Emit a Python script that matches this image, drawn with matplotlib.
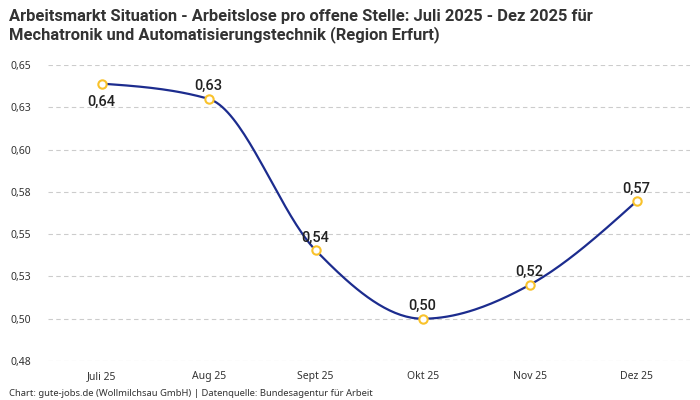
import numpy as np
import matplotlib
matplotlib.use("Agg")
import matplotlib.pyplot as plt

months = ["Juli 25", "Aug 25", "Sept 25", "Okt 25", "Nov 25", "Dez 25"]
values = [0.639, 0.630, 0.5405, 0.500, 0.520, 0.5695]
labels = ["0,64", "0,63", "0,54", "0,50", "0,52", "0,57"]
label_below = [True, False, False, False, False, False]
y_ticks = [0.475, 0.5, 0.525, 0.55, 0.575, 0.6, 0.625, 0.65]
y_tick_labels = ["0,48", "0,50", "0,53", "0,55", "0,58", "0,60", "0,63", "0,65"]

plt.rcParams['font.family'] = ['Noto Sans', 'DejaVu Sans']
BOLD_FONT = ['Roboto', 'DejaVu Sans']


def monotone_curve(x, y, steps=40):
    # monotone cubic (like d3 curveMonotoneX)
    x = np.asarray(x, float)
    y = np.asarray(y, float)
    n = len(x)
    h = np.diff(x)
    s = np.diff(y) / h
    t = np.zeros(n)
    for i in range(1, n - 1):
        if s[i - 1] * s[i] <= 0:
            t[i] = 0
        else:
            p = (s[i - 1] * h[i] + s[i] * h[i - 1]) / (h[i - 1] + h[i])
            t[i] = (np.sign(s[i - 1]) + np.sign(s[i])) * min(abs(s[i - 1]), abs(s[i]), 0.5 * abs(p))
    t[0] = (3 * s[0] - t[1]) / 2
    t[-1] = (3 * s[-1] - t[-2]) / 2
    xs, ys = [], []
    for i in range(n - 1):
        u = np.linspace(0, 1, steps)
        h00 = 2 * u**3 - 3 * u**2 + 1
        h10 = u**3 - 2 * u**2 + u
        h01 = -2 * u**3 + 3 * u**2
        h11 = u**3 - u**2
        xs.append(x[i] + u * h[i])
        ys.append(h00 * y[i] + h10 * h[i] * t[i] + h01 * y[i + 1] + h11 * h[i] * t[i + 1])
    return np.concatenate(xs), np.concatenate(ys)


fig = plt.figure(figsize=(7, 4), dpi=100)
ax = fig.add_axes([0.0686, 0.0975, 0.9174, 0.74])

x = np.arange(len(months))
cx, cy = monotone_curve(x, values)
ax.plot(cx, cy, color="#1c2c8e", lw=1.6, zorder=3)
ax.plot(x, values, "o", ms=6, mfc="white", mec="#f9c22b", mew=1.5, zorder=4)

for xi, v, lab, below in zip(x, values, labels, label_below):
    if below:
        ax.annotate(lab, (xi, v), xytext=(0, -8), textcoords="offset points",
                    ha="center", va="top", fontsize=10.5, fontweight="medium",
                    color="#222", family=BOLD_FONT)
    else:
        ax.annotate(lab, (xi, v), xytext=(0, 4), textcoords="offset points",
                    ha="center", va="bottom", fontsize=10.5, fontweight="medium",
                    color="#222", family=BOLD_FONT)

ax.set_xlim(-0.5, 5.5)
ax.set_ylim(0.475, 0.65)
ax.set_yticks(y_ticks)
ax.set_yticklabels(y_tick_labels)
ax.set_xticks(x)
ax.set_xticklabels(months)
ax.tick_params(axis="both", length=0, labelsize=7.5, colors="#333")
ax.tick_params(axis="x", pad=7)
for lbl in ax.get_yticklabels():
    lbl.set_horizontalalignment("left")
ax.tick_params(axis="y", pad=27)
ax.grid(axis="y", color="#cccccc", ls=(0, (4, 3)), lw=0.8)
for sp in ax.spines.values():
    sp.set_visible(False)

fig.text(0.013, 0.978, "Arbeitsmarkt Situation - Arbeitslose pro offene Stelle: Juli 2025 - Dez 2025 für\nMechatronik und Automatisierungstechnik (Region Erfurt)",
         ha="left", va="top", fontsize=11.9, fontweight="bold", color="#333",
         linespacing=1.2, family=BOLD_FONT)
fig.text(0.013, 0.005, "Chart: gute-jobs.de (Wollmilchsau GmbH) | Datenquelle: Bundesagentur für Arbeit",
         ha="left", va="bottom", fontsize=6.8, color="#333")

fig.savefig("out.png", dpi=100)
